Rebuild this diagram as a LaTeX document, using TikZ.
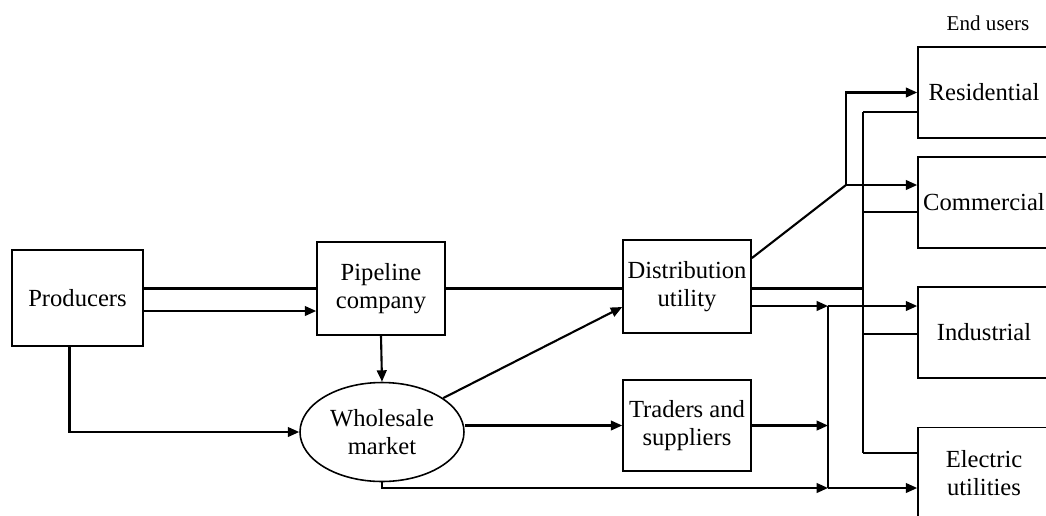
\documentclass[tikz,border=0pt]{standalone}
\usepackage{fontspec}
\setmainfont{Liberation Serif}
\usetikzlibrary{positioning,arrows.meta,shapes.geometric,calc}
\tikzset{
  box/.style={draw, line width=0.9pt, align=center, minimum width=2.56cm, minimum height=1.86cm, inner sep=2pt, font=\fontsize{14}{16}\selectfont},
  user/.style={box, minimum width=2.64cm, minimum height=1.82cm},
  mkt/.style={ellipse, draw, line width=0.9pt, align=center, minimum width=3.28cm, minimum height=1.98cm, inner sep=0pt, font=\fontsize{14}{16}\selectfont},
  flow/.style={line width=1.2pt},
  arr/.style={-{Triangle[length=6.5pt,width=5.5pt]}, line width=1.2pt},
}

\begin{document}
\begin{tikzpicture}[x=0.02cm, y=-0.02cm]
    \useasboundingbox (0,0) rectangle (1046,515);
    \clip (0,0) rectangle (1046,515);
    \node[box, minimum width=2.62cm, minimum height=1.92cm] (prod) at (77.5,298) {Producers};
    \node[box] (pipe) at (381,288.5) {Pipeline\\company};
    \node[box] (dist) at (687,286.5) {Distribution\\utility};
    \node[box, minimum height=1.82cm] (trad) at (687,425.5) {Traders and\\suppliers};
    \node[mkt] (whole) at (382,432) {Wholesale\\market};
    \node[font=\fontsize{12}{14}\selectfont] (endu) at (988,23) {End users};
    \foreach \u/\y/\txt in {res/92.5/Residential, com/202.5/Commercial, ind/332.5/Industrial, elec/473/Electric\\utilities}
      \node[user] (\u) at (984,\y) {\txt};
    \coordinate (fork) at (846,185);
    \coordinate (busT) at (828,306);
    \coordinate (busB) at (828,488);
    \coordinate (supT) at (863,112);
    \coordinate (supB) at (863,453);
    % gas flow through the network
    \draw[flow] (prod.east |- pipe.west) -- (pipe.west);
    \draw[flow] (pipe.east) -- (dist.west |- pipe.east);
    \draw[flow] (dist.east |- pipe.east) -- (supT |- pipe.east);
    \draw[flow] (supT) -- (supB);
    \foreach \u/\y in {res/112, com/212, ind/334, elec/453}
      \draw[flow] (supT |- 0,\y) -- (\u.west |- 0,\y);
    % sales
    \draw[arr] (prod.east |- 0,311) -- (pipe.west |- 0,311);
    \draw[arr] (pipe.south) -- (whole.north);
    \draw[arr] ($(prod.south)+(-8,0)$) |- (whole.west);
    \draw[arr] (whole.29) -- (dist.west |- 0,307);
    \draw[arr] (whole.east |- trad.west) -- (trad.west);
    \draw[arr] (whole.south) |- (busB);
    \draw[arr] (dist.east |- busT) -- (busT);
    \draw[arr] (trad.east) -- (trad.east -| busT);
    \draw[flow] (busT) -- (busB);
    \draw[arr] (busT) -- (ind.west |- busT);
    \draw[arr] (busB) -- (elec.west |- busB);
    \draw[flow] ($(dist.north east)!0.2!(dist.south east)$) -- (fork);
    \draw[arr] (fork) |- (res.west);
    \draw[arr] (fork) -- (com.west |- fork);
\end{tikzpicture}
\end{document}
